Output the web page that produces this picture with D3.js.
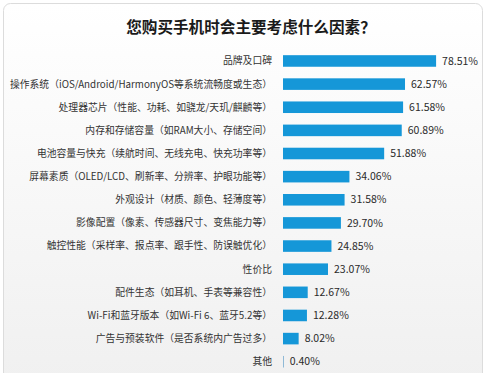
<!DOCTYPE html>
<html>
<head>
<meta charset="utf-8">
<script src="https://cdn.jsdelivr.net/npm/d3@7"></script>
<style>
  html, body { margin: 0; padding: 0; background: #fff; }
  svg { display: block; }
  text { font-family: "Noto Sans CJK SC", "Noto Sans", sans-serif; }
</style>
</head>
<body>
<script>
const width = 486, height = 373;

const title = '您购买手机时会主要考虑什么因素？';
const categories = [
  '品牌及口碑',
  '操作系统（iOS/Android/HarmonyOS等系统流畅度或生态）',
  '处理器芯片（性能、功耗、如骁龙/天玑/麒麟等）',
  '内存和存储容量（如RAM大小、存储空间）',
  '电池容量与快充（续航时间、无线充电、快充功率等）',
  '屏幕素质（OLED/LCD、刷新率、分辨率、护眼功能等）',
  '外观设计（材质、颜色、轻薄度等）',
  '影像配置（像素、传感器尺寸、变焦能力等）',
  '触控性能（采样率、报点率、跟手性、防误触优化）',
  '性价比',
  '配件生态（如耳机、手表等兼容性）',
  'Wi-Fi和蓝牙版本（如Wi-Fi 6、蓝牙5.2等）',
  '广告与预装软件（是否系统内广告过多）',
  '其他'
];
const values = [78.51, 62.57, 61.58, 60.89, 51.88, 34.06, 31.58, 29.70, 24.85, 23.07, 12.67, 12.28, 8.02, 0.40];

const svg = d3.select('body').append('svg')
    .attr('width', width)
    .attr('height', height);

// card background, white at the top fading to light grey
const grad = svg.append('defs').append('linearGradient')
    .attr('id', 'bg')
    .attr('x1', 0).attr('y1', 0).attr('x2', 0).attr('y2', 1);
grad.append('stop').attr('offset', '0%').attr('stop-color', '#ffffff');
grad.append('stop').attr('offset', '100%').attr('stop-color', '#f0f0f0');

svg.append('rect')
    .attr('x', 3.5).attr('y', 3.5)
    .attr('width', 479).attr('height', 380)
    .attr('rx', 7)
    .attr('fill', 'url(#bg)')
    .attr('stroke', '#dcdcdc');

svg.append('text')
    .attr('x', 251)
    .attr('y', 33)
    .attr('text-anchor', 'middle')
    .attr('font-size', 15.6)
    .attr('font-weight', 'bold')
    .attr('fill', '#1a1a1a')
    .text(title);

const x = d3.scaleLinear().domain([0, 100]).range([283, 478]);
const y = d3.scaleBand()
    .domain(categories)
    .range([49.4, 373.3])
    .paddingInner(0.5)
    .paddingOuter(0.25);

const rows = svg.append('g')
  .selectAll('g')
  .data(categories)
  .join('g');

rows.append('rect')
    .attr('x', x(0))
    .attr('y', d => y(d))
    .attr('width', (d, i) => Math.max(1, x(values[i]) - x(0)))
    .attr('height', y.bandwidth())
    .attr('fill', (d, i) => values[i] < 1 ? '#8fb9d6' : '#1597d8');

rows.append('text')
    .attr('x', x(0) - 11)
    .attr('y', d => y(d) + y.bandwidth() / 2)
    .attr('dy', '0.35em')
    .attr('text-anchor', 'end')
    .attr('font-size', 9.8)
    .attr('fill', '#333')
    .text(d => d);

rows.append('text')
    .attr('x', (d, i) => x(values[i]) + 6)
    .attr('y', d => y(d) + y.bandwidth() / 2)
    .attr('dy', '0.35em')
    .attr('font-size', 10.5)
    .attr('fill', '#2a2a2a')
    .text((d, i) => values[i].toFixed(2) + '%');
</script>
</body>
</html>
